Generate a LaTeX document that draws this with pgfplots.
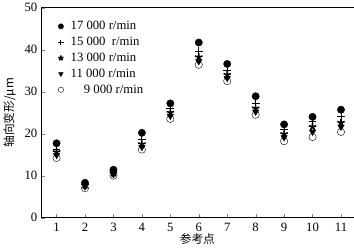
\documentclass[border=0pt]{standalone}
\usepackage{pgfplots}
\pgfplotsset{compat=1.18}
\usepackage{fontspec}
\setmainfont{Liberation Serif}
\newfontfamily\cjk{Noto Sans CJK SC}
\begin{document}
\begin{tikzpicture}[x=1bp,y=1bp]
\begin{axis}[
  scale only axis, width=307bp, height=206bp,
  xmin=0.45, xmax=11.45, ymin=0, ymax=50,
  xtick={1,...,11}, ytick={0,10,...,50},
  tick align=inside, major tick length=4bp,
  xtick pos=bottom, ytick pos=left,
  /pgf/number format/assume math mode=true,
  tick label style={font=\fontsize{12.5}{14}\selectfont},
  xticklabel style={yshift=-2bp},
  xlabel={\cjk 参考点}, ylabel={\cjk 轴向变形/μm},
  label style={font=\fontsize{11.5}{13}\selectfont},
  xlabel style={yshift=5bp},
  ylabel style={yshift=2bp},
  legend style={draw=none, fill=none, at={(0.045,0.955)}, anchor=north west,
    row sep=1.8bp, nodes={font=\fontsize{12.5}{13}\selectfont, inner xsep=2bp},
    /tikz/every odd column/.append style={column sep=5bp}},
  legend image code/.code={\draw[mark repeat=2,mark phase=2,mark size=2.6bp] plot coordinates {(0bp,0bp)(6bp,0bp)(12bp,0bp)};},
  legend cell align=left,
  every axis plot/.append style={only marks, black},
]
\addplot[mark=*, mark size=3.6bp] coordinates {(1,17.7)(2,8.3)(3,11.4)(4,20.2)(5,27.2)(6,41.7)(7,36.6)(8,28.9)(9,22.2)(10,24.0)(11,25.7)};
\addlegendentry{17 000 r/min}
\addplot[mark=+, mark size=3.8bp, mark options={line width=0.8bp}] coordinates {(1,16.2)(2,7.9)(3,10.9)(4,18.6)(5,26.0)(6,39.7)(7,35.0)(8,27.3)(9,21.0)(10,22.8)(11,24.0)};
\addlegendentry{15 000\ \ r/min}
\addplot[mark=star, mark size=3.8bp, mark options={line width=1.6bp}] coordinates {(1,15.6)(2,7.7)(3,10.6)(4,17.5)(5,25.0)(6,38.2)(7,34.0)(8,26.0)(9,19.9)(10,21.6)(11,22.6)};
\addlegendentry{13 000 r/min}
\addplot[mark=triangle*, mark size=3.6bp, mark options={rotate=180}] coordinates {(1,14.9)(2,7.4)(3,10.3)(4,16.8)(5,24.2)(6,37.2)(7,33.2)(8,25.2)(9,19.1)(10,20.4)(11,21.6)};
\addlegendentry{11 000 r/min}
\addplot[mark=o, mark size=3.6bp, mark options={fill=white}] coordinates {(1,14.2)(2,7.0)(3,10.0)(4,16.2)(5,23.5)(6,36.4)(7,32.5)(8,24.5)(9,18.2)(10,19.2)(11,20.4)};
\addlegendentry{\hspace{13bp}9 000 r/min}
\end{axis}
\end{tikzpicture}
\end{document}
